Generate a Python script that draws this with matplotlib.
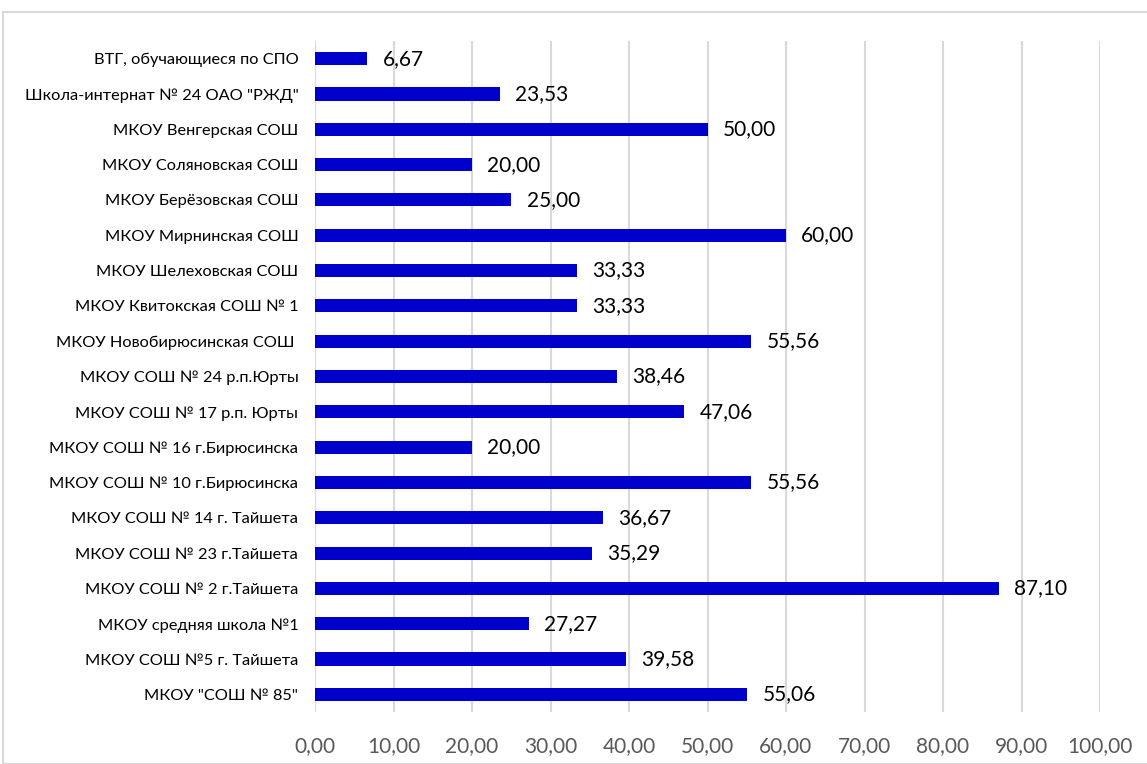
import matplotlib.pyplot as plt
from matplotlib.patches import Rectangle

plt.rcParams['font.family'] = ['Lato', 'DejaVu Sans']

# Schools listed from the bottom bar to the top bar
schools = [
    'МКОУ "СОШ № 85"',
    'МКОУ СОШ №5 г. Тайшета',
    'МКОУ средняя школа №1',
    'МКОУ СОШ № 2 г.Тайшета',
    'МКОУ СОШ № 23 г.Тайшета',
    'МКОУ СОШ № 14 г. Тайшета',
    'МКОУ СОШ № 10 г.Бирюсинска',
    'МКОУ СОШ № 16 г.Бирюсинска',
    'МКОУ СОШ № 17 р.п. Юрты',
    'МКОУ СОШ № 24 р.п.Юрты',
    'МКОУ Новобирюсинская СОШ ',
    'МКОУ Квитокская СОШ № 1',
    'МКОУ Шелеховская СОШ',
    'МКОУ Мирнинская СОШ',
    'МКОУ Берёзовская СОШ',
    'МКОУ Соляновская СОШ',
    'МКОУ Венгерская СОШ',
    'Школа-интернат № 24 ОАО "РЖД"',
    'ВТГ, обучающиеся по СПО',
]
values = [55.06, 39.58, 27.27, 87.10, 35.29, 36.67, 55.56, 20.00, 47.06, 38.46,
          55.56, 33.33, 33.33, 60.00, 25.00, 20.00, 50.00, 23.53, 6.67]
x_ticks = [0, 10, 20, 30, 40, 50, 60, 70, 80, 90, 100]

fig = plt.figure(figsize=(11.47, 7.64), dpi=100)
fig.patches.append(Rectangle((3 / 1147, 0), 1.0, 1 - 12 / 764, transform=fig.transFigure,
                             fill=False, edgecolor='#d9d9d9', linewidth=1.5))

ax = fig.add_axes([315 / 1147, 1 - 712 / 764, (1100 - 315) / 1147, (712 - 41) / 764])
pos = list(range(len(schools)))
ax.barh(pos, values, height=0.37, color='#0000cc', zorder=3)

for p, v in zip(pos, values):
    ax.annotate(f'{v:.2f}'.replace('.', ','), (v, p), xytext=(11, 0), textcoords='offset points',
                va='center', ha='left', fontsize=15, color='black')

ax.set_xlim(0, 100)
ax.set_ylim(-0.5, len(schools) - 0.5)
ax.set_xticks(x_ticks)
ax.set_xticklabels([f'{t:.2f}'.replace('.', ',') for t in x_ticks], fontsize=15, color='#595959')
ax.set_yticks(pos)
ax.set_yticklabels(schools, fontsize=11.8, color='black')
ax.tick_params(axis='both', length=0)
ax.tick_params(axis='x', pad=17)
ax.tick_params(axis='y', pad=12)
ax.grid(axis='x', color='#d9d9d9', linewidth=1.5, zorder=0)
for s in ax.spines.values():
    s.set_visible(False)

fig.savefig('out.png', dpi=100)
